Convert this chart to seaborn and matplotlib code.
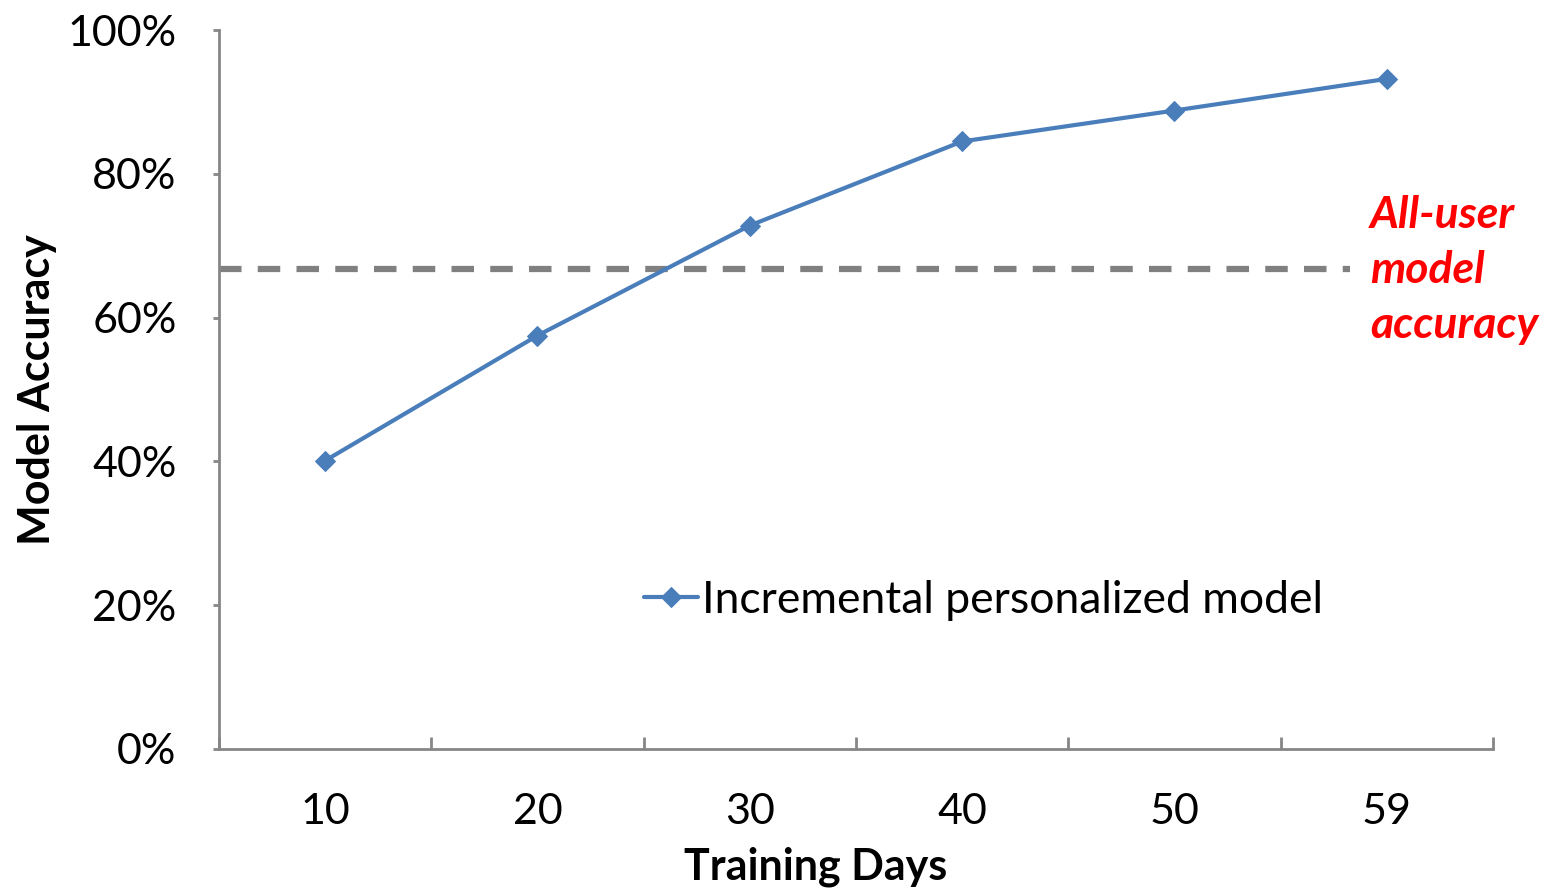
import matplotlib
matplotlib.use('Agg')
import matplotlib.pyplot as plt
import seaborn as sns
import pandas as pd
import numpy as np

# chart values
days = ['10', '20', '30', '40', '50', '59']
accuracy = [40.1, 57.5, 72.8, 84.5, 88.8, 93.2]
all_user_accuracy = 66.7
series_name = 'Incremental personalized model'

sns.set_theme(style='white')
plt.rcParams['font.family'] = ['Lato', 'DejaVu Sans']
plt.rcParams['text.color'] = 'black'

df = pd.DataFrame({'pos': np.arange(len(days)), 'acc': accuracy, 'series': series_name})

fig = plt.figure(figsize=(15.54, 8.93), dpi=100)
ax = fig.add_axes([0.1409, 0.1613, 0.8198, 0.8051])

blue = '#4A7EBB'
sns.lineplot(data=df, x='pos', y='acc', hue='series', palette=[blue], marker='D',
             markersize=10, markeredgecolor=blue, linewidth=3, ax=ax)

# all-user reference line
ax.axhline(all_user_accuracy, xmin=0, xmax=0.888, color='#808080', linewidth=4.5,
           dashes=(3.6, 2.6), zorder=1)
ax.text(4.92, 77.0, 'All-user\nmodel\naccuracy', color='#FF0000', fontsize=32,
        fontweight='bold', style='italic', va='top', ha='left', linespacing=1.45)

ax.set_xlim(-0.5, len(days) - 0.5)
ax.set_ylim(0, 100)
ax.set_xticks(np.arange(len(days)))
ax.set_xticklabels(days)
ax.set_xticks(np.arange(-0.5, len(days)), minor=True)
ax.set_yticks(range(0, 101, 20))
ax.set_yticklabels([f'{v}%' for v in range(0, 101, 20)])
ax.tick_params(axis='x', which='major', length=0, labelsize=31, pad=32, labelcolor='black')
ax.tick_params(axis='x', which='minor', direction='in', length=9, width=2, color='#868686', bottom=True)
ax.tick_params(axis='y', direction='out', length=4.5, width=2, color='#868686', labelsize=31,
               pad=26, left=True, labelcolor='black')

for s in ['top', 'right']:
    ax.spines[s].set_visible(False)
for s in ['left', 'bottom']:
    ax.spines[s].set_color('#868686')
    ax.spines[s].set_linewidth(2)

ax.set_xlabel('Training Days', fontsize=31, fontweight='bold', color='black')
ax.xaxis.set_label_coords(0.468, -0.136)
ax.set_ylabel('Model Accuracy', fontsize=31, fontweight='bold', color='black')
ax.yaxis.set_label_coords(-0.127, 0.5)

leg = ax.legend(loc='center left', bbox_to_anchor=(0.320, 0.207), frameon=False, fontsize=32,
                handlelength=1.2, handletextpad=0.1, borderaxespad=0, labelcolor='black')

fig.savefig('out.png', dpi=100)
